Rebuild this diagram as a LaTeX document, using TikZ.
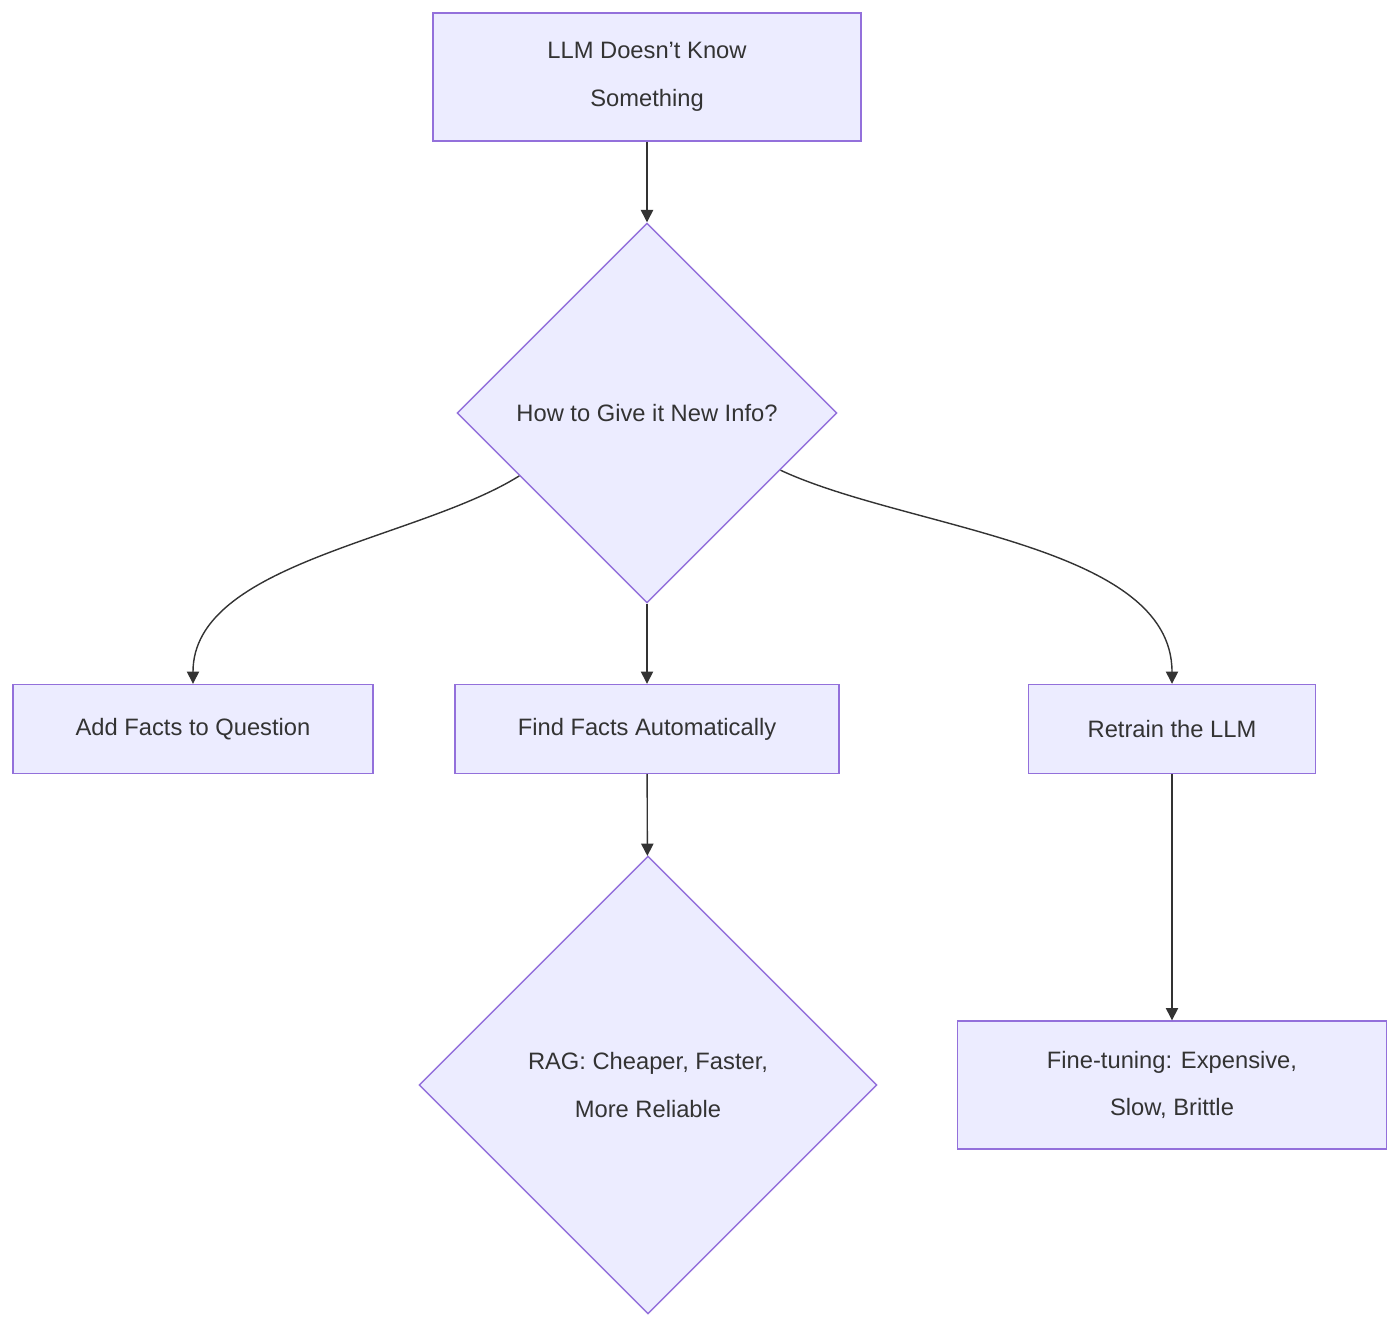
\documentclass[tikz,border=0pt]{standalone}
\usepackage{fontspec}
\setmainfont{Liberation Sans}
\usetikzlibrary{shapes.geometric,arrows.meta,calc}
\definecolor{boxfill}{HTML}{ECECFF}
\definecolor{boxline}{HTML}{9370DB}
\definecolor{edgeline}{HTML}{333333}
\begin{document}
\begin{tikzpicture}[
    every node/.style={font=\fontsize{13.5}{27}\selectfont, text=edgeline, align=center},
    task/.style={rectangle, draw=boxline, fill=boxfill, line width=0.8pt, minimum height=1.78cm},
    choice/.style={diamond, draw=boxline, fill=boxfill, line width=0.8pt, aspect=1, inner sep=0pt},
    arr/.style={draw=edgeline, line width=0.8pt, -{Triangle[length=7pt,width=7pt]}}
]
    \useasboundingbox (0,0) rectangle (28,-26.56);
    \node[task, minimum width=8.56cm, minimum height=2.56cm] (llm) at (12.94,-1.54) {LLM Doesn't Know\\Something};
    \node[choice, minimum size=7.6cm] (how) at (12.94,-8.26) {How to Give it New Info?};
    \node[task, minimum width=7.2cm] (add) at (3.86,-14.58) {Add Facts to Question};
    \node[task, minimum width=7.68cm] (find) at (12.94,-14.58) {Find Facts Automatically};
    \node[task, minimum width=5.74cm] (retrain) at (23.44,-14.58) {Retrain the LLM};
    \node[choice, minimum size=9.16cm] (rag) at (12.96,-21.7) {RAG: Cheaper, Faster,\\More Reliable};
    \node[task, minimum width=8.58cm, minimum height=2.56cm] (fine) at (23.44,-21.7) {Fine-tuning: Expensive,\\Slow, Brittle};
    \draw[arr] (llm) -- (how);
    \draw[arr] ($(how.west)!0.33!(how.south)$) to[out=212,in=90,looseness=0.8] (add.north);
    \draw[arr] (how) -- (find);
    \draw[arr] ($(how.east)!0.30!(how.south)$) to[out=-25,in=90,looseness=0.8] (retrain.north);
    \draw[arr] (find) -- (rag);
    \draw[arr] (retrain) -- (fine);
\end{tikzpicture}
\end{document}
